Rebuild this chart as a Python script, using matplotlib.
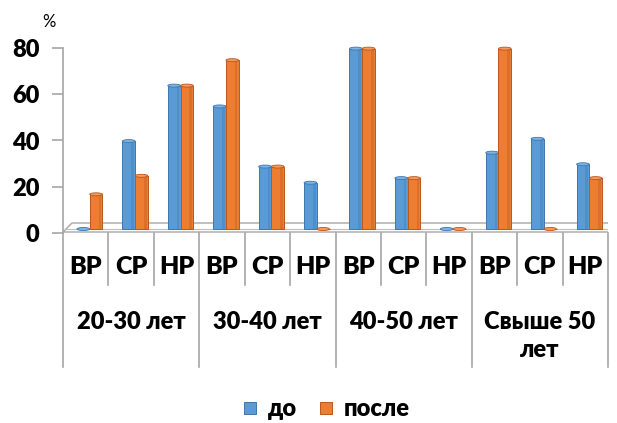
import matplotlib
matplotlib.use("Agg")
import matplotlib.pyplot as plt
from matplotlib.patches import Ellipse, Polygon
from matplotlib.transforms import offset_copy, blended_transform_factory
import numpy as np

plt.rcParams['font.family'] = ['Lato', 'DejaVu Sans']

# data
groups = ["20-30 лет", "30-40 лет", "40-50 лет", "Свыше 50\nлет"]
levels = ["ВР", "СР", "НР"]
before = [0, 38, 62, 53, 27, 20, 78, 22, 0, 33, 39, 28]
after = [15, 23, 62, 73, 27, 0, 78, 22, 0, 78, 0, 22]
series_names = ["до", "после"]
colors = ["#5B9BD5", "#ED7D31"]
edges = ["#3E77AD", "#B8581C"]
caps = ["#7FB2E0", "#F39A5C"]

W, H = 617, 423
fig = plt.figure(figsize=(W / 100, H / 100), dpi=100)
x0, x1, y0, y1 = 63, 608, 233, 48
ax = fig.add_axes([x0 / W, 1 - y0 / H, (x1 - x0) / W, (y0 - y1) / H])

n = len(before)
x = np.arange(n)
ax.set_xlim(-0.5, n - 0.5)
ax.set_ylim(0, 80)

# floor of the 3d chart
floor = Polygon([(x0, H - 232), (x1, H - 232), (x1 + 7, H - 223), (x0 + 9, H - 223)],
                closed=True, transform=None, facecolor="white", edgecolor="#A6A6A6",
                lw=1.0, zorder=1)
ax.add_patch(floor)
ax.plot([x0 + 2, x1 + 2], [H - 229, H - 229], transform=None, color="#BFBFBF", lw=0.8, zorder=1)

# bars pushed back onto the floor
back = offset_copy(ax.transData, fig=fig, x=4, y=4, units="dots")
bw = 0.28
ppu = (y0 - y1) / 80.0
cap_h = 3.0 / ppu
for k, vals in enumerate([before, after]):
    xs = x - bw / 2 + k * bw
    ax.bar(xs, vals, bw, color=colors[k], edgecolor=edges[k], lw=0.7,
           transform=back, zorder=3 + k, label=series_names[k], clip_on=False)
    # darker right side to fake the cylinder shading
    ax.bar(xs + bw * 0.3, vals, bw * 0.2, color=edges[k], alpha=0.35, lw=0,
           transform=back, zorder=3 + k, clip_on=False)
    for xi, v in zip(xs, vals):
        ax.add_patch(Ellipse((xi, v), bw, cap_h, transform=back, facecolor=caps[k],
                             edgecolor=edges[k], lw=0.6, zorder=3.5 + k, clip_on=False))

# axes look
for s in ["top", "right", "bottom"]:
    ax.spines[s].set_visible(False)
ax.spines["left"].set_color("#A6A6A6")
ax.spines["left"].set_linewidth(1.2)
ax.set_yticks([0, 20, 40, 60, 80])
ax.tick_params(axis="y", length=8, width=1.2, color="#A6A6A6", pad=9, labelsize=17)
for t in ax.get_yticklabels():
    t.set_fontweight("heavy")
ax.set_xticks([])
fig.text(49 / W, 1 - 22 / H, "%", fontsize=12, ha="center", va="center")

# two level category axis
tr = blended_transform_factory(ax.transData, ax.transAxes)
inner_y = -(285 - y0) / (y0 - y1)
outer_y = -(367 - y0) / (y0 - y1)
for i in range(n + 1):
    bottom = outer_y if i % 3 == 0 else inner_y
    ax.plot([i - 0.5, i - 0.5], [0, bottom], transform=tr, color="#A6A6A6",
            lw=1.2, clip_on=False)
for i in range(n):
    ax.text(i, -(267 - y0) / (y0 - y1), levels[i % 3], transform=tr, ha="center",
            va="center", fontsize=18, fontweight="heavy")
for g, name in enumerate(groups):
    ax.text(g * 3 + 1, -(311 - y0) / (y0 - y1), name, transform=tr, ha="center",
            va="top", fontsize=17, fontweight="heavy", linespacing=1.35)

# legend
handles, labels = ax.get_legend_handles_labels()
fig.legend(handles, labels, loc="center", bbox_to_anchor=(327 / W, 1 - 409 / H),
           ncol=2, frameon=False, prop={"size": 17, "weight": "heavy"},
           handlelength=0.5, handleheight=0.4, handletextpad=0.5, columnspacing=1.0)

fig.savefig("out.png", dpi=100)
